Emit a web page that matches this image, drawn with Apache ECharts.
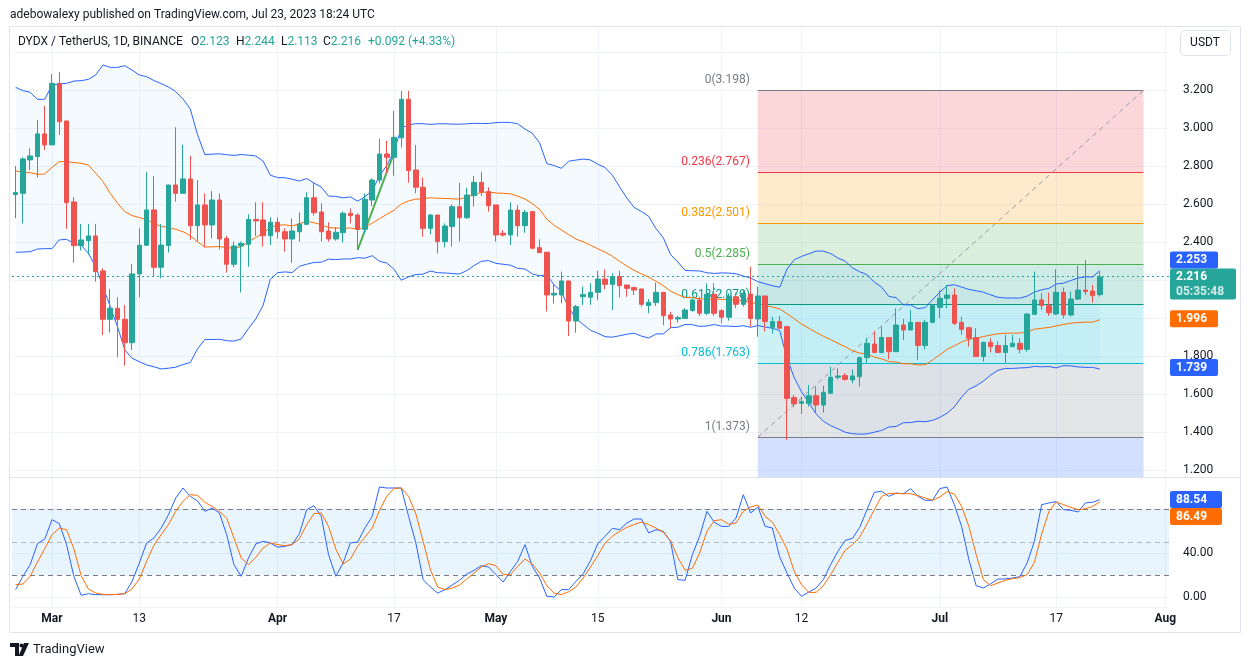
<!DOCTYPE html>
<html><head><meta charset="utf-8">
<script src="https://cdn.jsdelivr.net/npm/echarts@6/dist/echarts.min.js"></script>
<style>html,body{margin:0;padding:0;background:#fff}#c{width:1250px;height:668px}</style>
</head><body><div id="c"></div>
<script>
// ---------------- data ----------------
const startDate = [2023, 1, 24];   // Feb 24, 2023 (UTC, month 0-based)
const totalDays = 159;             // category slots up to Aug 1
const opens = [2.650,2.656,2.832,2.850,2.969,2.911,3.235,3.037,2.611,2.381,2.407,2.432,2.248,1.993,2.051,1.993,1.870,2.232,2.383,2.569,2.267,2.381,2.700,2.656,2.732,2.486,2.595,2.490,2.621,2.419,2.283,2.379,2.388,2.519,2.516,2.433,2.504,2.454,2.416,2.454,2.493,2.633,2.558,2.458,2.416,2.449,2.551,2.542,2.467,2.621,2.726,2.863,2.846,2.949,3.151,2.779,2.688,2.472,2.542,2.402,2.481,2.586,2.528,2.644,2.714,2.665,2.595,2.446,2.437,2.568,2.486,2.560,2.370,2.346,2.121,2.121,2.195,1.984,2.112,2.109,2.135,2.205,2.177,2.218,2.174,2.160,2.153,2.065,2.081,2.135,2.016,1.995,1.998,2.039,2.095,2.025,2.125,2.039,2.004,2.112,2.072,2.126,1.995,2.116,1.951,1.981,1.955,1.581,1.551,1.551,1.591,1.542,1.604,1.688,1.697,1.674,1.691,1.791,1.863,1.818,1.897,1.823,1.963,1.937,1.977,1.855,1.977,2.056,2.104,2.121,1.977,1.949,1.897,1.797,1.872,1.855,1.819,1.849,1.867,1.835,2.019,2.095,2.065,2.021,2.135,2.016,2.100,2.147,2.142,2.123];
const highs = [2.800,2.846,2.893,3.042,3.116,3.284,3.295,3.037,2.637,2.495,2.495,2.495,2.262,2.153,2.109,2.069,2.284,2.472,2.769,2.747,2.495,2.700,3.004,2.911,2.853,2.726,2.656,2.668,2.656,2.432,2.402,2.402,2.546,2.609,2.609,2.530,2.530,2.472,2.525,2.556,2.661,2.714,2.604,2.504,2.477,2.560,2.577,2.551,2.656,2.735,2.944,2.933,3.090,3.195,3.195,2.911,2.740,2.547,2.542,2.498,2.598,2.712,2.686,2.747,2.770,2.688,2.595,2.463,2.609,2.595,2.568,2.560,2.414,2.346,2.179,2.244,2.195,2.069,2.165,2.183,2.249,2.256,2.235,2.249,2.174,2.165,2.153,2.100,2.186,2.135,2.033,2.011,2.051,2.104,2.112,2.183,2.183,2.046,2.130,2.133,2.147,2.270,2.165,2.116,2.007,2.011,1.955,1.595,1.586,1.648,1.639,1.644,1.744,1.735,1.709,1.730,1.797,1.893,1.932,1.955,1.897,2.051,1.995,2.042,1.977,1.990,2.072,2.147,2.174,2.156,2.007,1.954,1.946,1.876,1.893,1.876,1.911,1.911,1.893,2.025,2.244,2.130,2.133,2.256,2.160,2.139,2.274,2.305,2.174,2.244];
const lows = [2.525,2.498,2.779,2.740,2.884,2.911,2.963,2.468,2.291,2.355,2.332,2.191,1.911,1.923,1.793,1.749,1.832,2.109,2.379,2.218,2.209,2.344,2.612,2.653,2.411,2.402,2.372,2.419,2.361,2.239,2.267,2.135,2.270,2.432,2.376,2.384,2.419,2.349,2.291,2.402,2.490,2.539,2.402,2.402,2.407,2.397,2.498,2.358,2.446,2.590,2.709,2.761,2.749,2.898,2.712,2.656,2.428,2.440,2.340,2.372,2.376,2.402,2.521,2.586,2.642,2.560,2.402,2.428,2.384,2.428,2.449,2.361,2.344,2.034,2.077,2.077,1.905,1.923,2.069,2.069,2.095,2.151,2.042,2.107,2.112,2.121,2.060,2.025,2.063,1.963,1.946,1.976,1.998,2.033,2.011,2.016,2.011,1.972,1.986,2.051,2.060,1.954,1.902,1.928,1.919,1.946,1.358,1.530,1.495,1.534,1.498,1.502,1.600,1.677,1.670,1.656,1.639,1.762,1.818,1.814,1.783,1.823,1.884,1.937,1.779,1.835,1.972,2.000,2.051,1.963,1.911,1.849,1.797,1.770,1.819,1.819,1.762,1.849,1.814,1.823,2.016,2.042,2.011,2.016,1.998,2.007,2.095,2.121,2.081,2.113];
const closes = [2.660,2.837,2.853,2.969,2.911,3.235,3.033,2.607,2.381,2.411,2.432,2.244,1.993,2.051,1.993,1.870,2.232,2.383,2.569,2.267,2.384,2.700,2.656,2.732,2.486,2.595,2.490,2.621,2.416,2.283,2.379,2.393,2.519,2.511,2.433,2.504,2.454,2.416,2.458,2.495,2.633,2.554,2.454,2.416,2.451,2.551,2.539,2.467,2.625,2.726,2.863,2.846,2.951,3.151,2.776,2.688,2.472,2.542,2.402,2.484,2.586,2.528,2.647,2.714,2.662,2.591,2.437,2.437,2.568,2.486,2.556,2.367,2.344,2.121,2.130,2.195,1.984,2.060,2.123,2.135,2.205,2.177,2.218,2.170,2.156,2.147,2.072,2.083,2.135,2.012,1.995,2.002,2.042,2.095,2.025,2.125,2.025,2.004,2.116,2.072,2.130,1.998,2.116,1.981,1.981,1.946,1.577,1.548,1.560,1.591,1.542,1.609,1.688,1.695,1.677,1.695,1.791,1.867,1.818,1.897,1.823,1.963,1.937,1.977,1.855,1.977,2.065,2.104,2.121,1.972,1.940,1.893,1.797,1.872,1.849,1.819,1.855,1.867,1.835,2.021,2.095,2.065,2.028,2.135,2.016,2.100,2.147,2.139,2.118,2.216];

// Bollinger values for the first 19 bars (window not yet full)
const bbUpperHead = [3.214,3.197,3.188,3.151,3.151,3.226,3.232,3.235,3.247,3.249,3.256,3.279,3.332,3.319,3.319,3.328,3.305,3.279,3.270];
const bbBasisHead = [2.774,2.767,2.765,2.756,2.758,2.793,2.823,2.823,2.818,2.814,2.805,2.762,2.718,2.656,2.604,2.560,2.539,2.528,2.519];
const bbLowerHead = [2.346,2.347,2.349,2.363,2.365,2.365,2.411,2.414,2.393,2.384,2.340,2.270,2.165,2.060,1.954,1.832,1.788,1.770,1.753];

const stochK = [6.7,18.8,29.4,48.5,52.7,70.3,66.7,47.6,18.8,1.5,3.0,2.1,2.1,2.1,2.4,3.0,14.2,30.9,49.1,53.6,62.7,74.8,90.0,99.1,91.5,87.3,77.9,80.9,76.4,56.7,29.4,18.8,35.5,48.2,50.6,49.1,45.2,46.1,47.6,57.6,79.4,83.0,73.3,38.5,18.8,30.9,49.1,50.0,62.7,73.3,100,99.1,99.1,99.1,73.3,49.1,15.8,9.1,3.6,6.7,10.9,15.2,20.9,24.2,28.5,27.3,20.3,13.6,23.3,32.4,47.6,27.9,17.3,0.6,0,6.7,6.7,14.2,21.2,33.0,48.5,55.2,62.4,61.2,67.3,70.9,70.9,58.2,61.2,59.7,50.6,15.8,15.2,38.5,55.2,77.9,67.9,64.2,64.2,71.8,93.0,76.4,81.8,64.2,62.7,36.4,21.8,8.2,0.6,4.5,8.2,15.8,29.4,41.5,51.5,53.3,63.3,79.4,95.2,96.1,91.5,94.5,93.9,98.5,91.5,87.9,87.9,98.5,100,83.9,64.2,33.9,10.3,8.2,12.1,16.4,16.4,17.3,18.5,30.9,50.6,83.9,85.5,86.7,79.4,78.8,77.3,85.5,86.1,88.54];
const stochD = [11.2,11.8,18.8,31.8,43.9,56.7,62.7,61.2,43.9,19.4,7.3,3.6,2.4,2.1,2.4,3.0,7.3,16.4,32.4,47.0,56.7,65.8,77.9,87.0,93.0,92.4,86.1,82.4,77.9,71.8,53.6,35.5,29.4,36.1,44.5,49.1,47.6,46.7,47.6,53.0,65.8,75.8,76.4,64.2,43.6,30.0,34.5,46.1,54.5,62.7,78.8,91.5,98.8,99.1,91.5,75.5,50.6,24.8,9.1,6.7,8.2,10.9,16.4,21.8,27.3,30.3,28.5,20.3,20.3,27.9,34.5,30.0,21.8,10.3,3.6,2.1,4.8,9.1,17.3,27.3,37.6,49.1,55.2,59.7,63.3,65.8,68.2,65.8,62.7,58.8,51.2,36.1,24.2,26.1,40.0,59.7,69.4,70.3,66.1,67.3,77.9,81.8,83.6,73.3,67.9,56.7,43.6,23.3,11.2,4.2,4.2,10.3,20.3,31.5,42.4,47.6,54.5,66.4,79.4,91.5,94.2,94.2,93.9,93.9,92.1,90.0,87.9,90.9,95.8,93.6,82.4,64.2,38.5,15.8,10.3,12.7,15.2,16.7,17.6,20.3,31.5,57.3,77.9,86.4,83.9,81.5,79.4,80.3,82.4,86.49];

const fibPrices = [3.198,2.767,2.501,2.285,2.070,1.763,1.373];
const fibLabels = ['0(3.198)','0.236(2.767)','0.382(2.501)','0.5(2.285)','0.618(2.070)','0.786(1.763)','1(1.373)'];
const fibStartIdx = 102, fibEndIdx = 155;
const trendLine = [[47, 2.358],[52, 2.870]];
const lastPrice = 2.216;
const priceTags = {upper:'2.253', close:'2.216', timer:'05:35:48', basis:'1.996', lower:'1.739'};
const priceTagVals = {upper:2.253, close:2.216, basis:1.996, lower:1.739};
const stochTags = {k:'88.54', d:'86.49'};
const xTickDates = ['2023-03-01','2023-03-13','2023-04-01','2023-04-17','2023-05-01','2023-05-15','2023-06-01','2023-06-12','2023-07-01','2023-07-17','2023-08-01'];
const xTickLabels = ['Mar','13','Apr','17','May','15','Jun','12','Jul','17','Aug'];
const monthLabels = ['Mar','Apr','May','Jun','Jul','Aug'];

// ---------------- build ----------------
const cats = [];
for (let i = 0; i < totalDays; i++) {
  const d = new Date(Date.UTC(startDate[0], startDate[1], startDate[2] + i));
  cats.push(d.toISOString().slice(0, 10));
}
const labelMap = {};
xTickDates.forEach((d, k) => { labelMap[cats.indexOf(d)] = xTickLabels[k]; });
const isTick = (i) => labelMap[i] !== undefined;

const candleData = opens.map((o, i) => [o, closes[i], lows[i], highs[i]]);

const bbUpper = [], bbBasis = [], bbLower = [];
for (let i = 0; i < closes.length; i++) {
  if (i < 19) { bbUpper.push(bbUpperHead[i]); bbBasis.push(bbBasisHead[i]); bbLower.push(bbLowerHead[i]); continue; }
  const w = closes.slice(i - 19, i + 1);
  const m = w.reduce((a, b) => a + b, 0) / 20;
  const sd = Math.sqrt(w.reduce((a, b) => a + (b - m) * (b - m), 0) / 20);
  bbBasis.push(+m.toFixed(4)); bbUpper.push(+(m + 2 * sd).toFixed(4)); bbLower.push(+(m - 2 * sd).toFixed(4));
}
const bbWidth = bbUpper.map((u, i) => +(u - bbLower[i]).toFixed(4));

const PMIN = 1.1632, PMAX = 3.5368;
const SMIN = -9.09, SMAX = 109.09;
const FONT = 'Roboto, "Noto Sans", "DejaVu Sans", sans-serif';
const TXT = '#131722';
const GRID = '#f0f3fa';
const UP = '#26a69a', DOWN = '#ef5350';

const fibColors = ['#787b86','#f23645','#ff9800','#4caf50','#089981','#00bcd4','#787b86'];
const fibFills = ['rgba(242,54,69,0.2)','rgba(255,152,0,0.2)','rgba(76,175,80,0.2)','rgba(8,153,129,0.2)','rgba(0,188,212,0.2)','rgba(120,123,134,0.2)','rgba(41,98,255,0.2)'];
const fibAreas = [];
for (let k = 0; k < fibPrices.length; k++) {
  const top = fibPrices[k];
  const bot = k + 1 < fibPrices.length ? fibPrices[k + 1] : PMIN;
  fibAreas.push([{ coord: [fibStartIdx, top], itemStyle: { color: fibFills[k] } }, { coord: [fibEndIdx, bot] }]);
}
const fibLines = fibPrices.map((p, k) => [
  { coord: [fibStartIdx, p], lineStyle: { color: fibColors[k], width: 1, type: 'solid' } },
  { coord: [fibEndIdx, p] }
]);
fibLines.push([
  { coord: [fibStartIdx, fibPrices[6]], lineStyle: { color: '#9598a1', width: 1, type: [5, 4] } },
  { coord: [fibEndIdx, fibPrices[0]] }
]);

const chart = echarts.init(document.getElementById('c'), null, { renderer: 'canvas' });
const xCommon = {
  type: 'category', data: cats, boundaryGap: true,
  axisLine: { show: false },
  axisTick: { show: false, alignWithLabel: true, interval: (i) => isTick(i) },
  splitLine: { show: true, alignWithLabel: true, interval: (i) => isTick(i), lineStyle: { color: GRID, width: 1 } }
};
const option = {
  animation: false,
  textStyle: { fontFamily: FONT },
  grid: [
    { left: 12, right: 81, top: 26, height: 451 },
    { left: 12, right: 81, top: 477, height: 130 }
  ],
  xAxis: [
    Object.assign({}, xCommon, { gridIndex: 0, axisLabel: { show: false } }),
    Object.assign({}, xCommon, {
      gridIndex: 1,
      axisLabel: {
        show: true, interval: (i) => isTick(i), margin: 6,
        formatter: (v, i) => { const t = labelMap[i] || ''; return monthLabels.includes(t) ? '{m|' + t + '}' : '{d|' + t + '}'; },
        rich: { m: { color: TXT, fontSize: 12, fontWeight: 'bold', fontFamily: FONT }, d: { color: TXT, fontSize: 12, fontFamily: FONT } }
      }
    })
  ],
  yAxis: [
    {
      type: 'value', gridIndex: 0, position: 'right', min: PMIN, max: PMAX,
      minInterval: 0.2, maxInterval: 0.2, splitNumber: 12,
      axisLine: { show: false }, axisTick: { show: false },
      axisLabel: {
        color: TXT, fontSize: 12, fontFamily: FONT, margin: 14, align: 'left',
        formatter: (v) => { const q = v / 0.2; if (Math.abs(q - Math.round(q)) > 1e-6 || Math.abs(v - 3.4) < 1e-6) return ''; return v.toFixed(3); }
      },
      splitLine: { lineStyle: { color: GRID } }
    },
    {
      type: 'value', gridIndex: 1, position: 'right', min: SMIN, max: SMAX,
      minInterval: 40, maxInterval: 40, splitNumber: 3,
      axisLine: { show: false }, axisTick: { show: false },
      axisLabel: {
        color: TXT, fontSize: 12, fontFamily: FONT, margin: 14, align: 'left',
        formatter: (v) => { const q = v / 40; if (Math.abs(q - Math.round(q)) > 1e-6 || Math.abs(v - 80) < 1e-6) return ''; return v.toFixed(2); }
      },
      splitLine: { lineStyle: { color: GRID } }
    }
  ],
  series: [
    { name: 'bbBase', type: 'line', data: bbLower, stack: 'bb', symbol: 'none', silent: true, z: 0, lineStyle: { opacity: 0 } },
    { name: 'bbFill', type: 'line', data: bbWidth, stack: 'bb', symbol: 'none', silent: true, z: 0, lineStyle: { opacity: 0 }, areaStyle: { color: 'rgba(33,150,243,0.06)' } },
    {
      name: 'fib', type: 'line', data: [], silent: true, z: 1,
      markArea: { silent: true, z: 1, data: fibAreas, label: { show: false } },
      markLine: { silent: true, z: 1, symbol: 'none', label: { show: false }, data: fibLines }
    },
    { name: 'bbUpper', type: 'line', data: bbUpper, symbol: 'none', silent: true, z: 3, lineStyle: { color: '#2962ff', width: 1 } },
    { name: 'bbBasis', type: 'line', data: bbBasis, symbol: 'none', silent: true, z: 3, lineStyle: { color: '#ff6d00', width: 1 } },
    { name: 'bbLower', type: 'line', data: bbLower, symbol: 'none', silent: true, z: 3, lineStyle: { color: '#2962ff', width: 1 } },
    {
      name: 'trend', type: 'line', data: [], silent: true, z: 3,
      markLine: { silent: true, symbol: 'none', label: { show: false }, z: 3,
        data: [[{ coord: trendLine[0], lineStyle: { color: '#4caf50', width: 2, type: 'solid' } }, { coord: trendLine[1] }]] }
    },
    {
      name: 'DYDX', type: 'candlestick', data: candleData, z: 4, barWidth: 5,
      itemStyle: { color: UP, color0: DOWN, borderColor: UP, borderColor0: DOWN, borderWidth: 1 },
      markLine: { silent: true, symbol: 'none', label: { show: false }, z: 3,
        data: [{ yAxis: lastPrice, lineStyle: { color: UP, type: [2, 3], width: 1 } }] }
    },
    {
      name: 'K', type: 'line', xAxisIndex: 1, yAxisIndex: 1, data: stochK, symbol: 'none', z: 3,
      lineStyle: { color: '#2962ff', width: 1 },
      markArea: { silent: true, z: 1, data: [[{ yAxis: 20, itemStyle: { color: 'rgba(33,150,243,0.1)' } }, { yAxis: 80 }]] },
      markLine: { silent: true, symbol: 'none', label: { show: false }, z: 2,
        data: [
          { yAxis: 80, lineStyle: { color: '#787b86', type: [5, 4], width: 1 } },
          { yAxis: 50, lineStyle: { color: 'rgba(120,123,134,0.5)', type: [5, 4], width: 1 } },
          { yAxis: 20, lineStyle: { color: '#787b86', type: [5, 4], width: 1 } }
        ] }
    },
    { name: 'D', type: 'line', xAxisIndex: 1, yAxisIndex: 1, data: stochD, symbol: 'none', z: 3, lineStyle: { color: '#ff6d00', width: 1 } }
  ]
};
chart.setOption(option);

// ---------------- overlay texts & tags ----------------
const g = [];
const txt = (x, y, s, opt) => g.push(Object.assign({ type: 'text', x: x, y: y, z: 100,
  style: Object.assign({ text: s, fill: TXT, font: '12px ' + FONT, textVerticalAlign: 'middle', verticalAlign: 'middle' }, opt || {}) }));
// frame
g.push({ type: 'rect', z: 90, shape: { x: 9.5, y: 26.5, width: 1231, height: 606 }, style: { fill: 'none', stroke: '#e0e3eb', lineWidth: 1 } });
g.push({ type: 'line', z: 90, shape: { x1: 9.5, y1: 477.5, x2: 1240.5, y2: 477.5 }, style: { stroke: '#e0e3eb', lineWidth: 1 } });
// header
txt(10, 15, 'adebowalexy published on TradingView.com, Jul 23, 2023 18:24 UTC', { font: '12px ' + FONT });
// legend row
txt(18, 42, 'DYDX / TetherUS, 1D, BINANCE');
const legendParts = [[191, 'O', '2.123'], [236, 'H', '2.244'], [281, 'L', '2.113'], [323, 'C', '2.216']];
legendParts.forEach(p => {
  g.push({ type: 'text', x: p[0], y: 42, z: 100, style: { rich: { a: { fill: TXT, font: '12px ' + FONT }, b: { fill: UP, font: '12px ' + FONT } },
    text: '{a|' + p[1] + '}{b|' + p[2] + '}', verticalAlign: 'middle', textVerticalAlign: 'middle' } });
});
txt(368, 42, '+0.092 (+4.33%)', { fill: UP });
// USDT button
g.push({ type: 'rect', z: 100, shape: { x: 1180.5, y: 30.5, width: 50, height: 25, r: 4 }, style: { fill: '#fff', stroke: '#e0e3eb' } });
txt(1205, 43, 'USDT', { textAlign: 'center', align: 'center' });
// bottom logo
g.push({ type: 'polygon', z: 100, shape: { points: [[10, 643], [19, 643], [19, 656], [15, 656], [15, 647], [10, 647]] }, style: { fill: TXT } });
g.push({ type: 'circle', z: 100, shape: { cx: 21.5, cy: 645.5, r: 2 }, style: { fill: TXT } });
g.push({ type: 'polygon', z: 100, shape: { points: [[24, 643], [29, 643], [23, 656], [18.5, 656]] }, style: { fill: TXT } });
txt(33, 650, 'TradingView', { font: '13px ' + FONT });

// fib labels
const px = (i, v) => chart.convertToPixel({ gridIndex: 0 }, [i, v]);
fibPrices.forEach((p, k) => {
  const pt = px(fibStartIdx, p);
  g.push({ type: 'text', x: pt[0] - 8, y: pt[1] - 10, z: 2,
    style: { text: fibLabels[k], fill: fibColors[k], font: '12px ' + FONT, textAlign: 'right', align: 'right', verticalAlign: 'middle', textVerticalAlign: 'middle' } });
});

// price tags
const yP = (v) => chart.convertToPixel({ yAxisIndex: 0 }, v);
const yS = (v) => chart.convertToPixel({ yAxisIndex: 1 }, v);
const TX = 1170;
const tag = (yc, w, h, color, lines) => {
  g.push({ type: 'rect', z: 110, shape: { x: TX, y: yc - h / 2, width: w, height: h, r: 2 }, style: { fill: color } });
  lines.forEach((l, k) => {
    g.push({ type: 'text', x: TX + 6, y: yc - h / 2 + 8.5 + k * 15, z: 111,
      style: { text: l[0], fill: l[1] || '#fff', font: 'bold 12px ' + FONT, verticalAlign: 'middle', textVerticalAlign: 'middle' } });
  });
};
const yClose = yP(priceTagVals.close);
const closeTop = yClose - 8.5;
tag(closeTop + 15.5, 66, 31, UP, [[priceTags.close], [priceTags.timer, 'rgba(255,255,255,0.8)']]);
const yUp = Math.min(yP(priceTagVals.upper), closeTop - 8.5);
tag(yUp, 48, 17, '#2962ff', [[priceTags.upper]]);
tag(yP(priceTagVals.basis), 48, 17, '#ff6d00', [[priceTags.basis]]);
tag(yP(priceTagVals.lower), 48, 17, '#2962ff', [[priceTags.lower]]);
const yK = yS(stochK[stochK.length - 1]);
tag(yK, 52, 17, '#2962ff', [[stochTags.k]]);
const yD = Math.max(yS(stochD[stochD.length - 1]), yK + 17);
tag(yD, 52, 17, '#ff6d00', [[stochTags.d]]);

chart.setOption({ graphic: g });
</script>
</body></html>
